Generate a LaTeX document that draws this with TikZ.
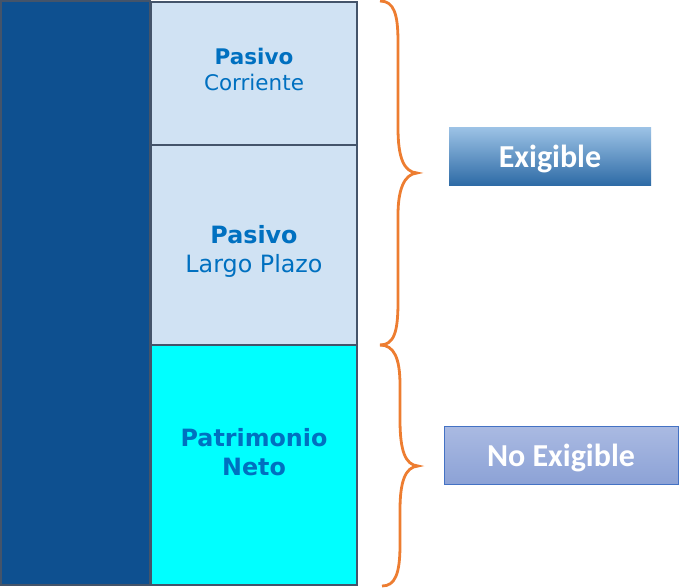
\documentclass[tikz,border=0pt]{standalone}
\usepackage{fontspec}
\setmainfont{DejaVu Sans}
\newfontfamily\calibri{Carlito}
\usetikzlibrary{positioning}
\definecolor{activo}{RGB}{14,80,144}
\definecolor{borde}{RGB}{68,84,106}
\definecolor{pasivo}{RGB}{208,226,243}
\definecolor{patrim}{RGB}{0,255,255}
\definecolor{azul}{RGB}{0,112,192}
\definecolor{naranja}{RGB}{237,125,49}
\definecolor{exigA}{RGB}{157,195,230}
\definecolor{exigB}{RGB}{46,107,166}
\definecolor{noexA}{RGB}{170,186,226}
\definecolor{noexB}{RGB}{140,162,214}
\definecolor{noexC}{RGB}{68,114,196}

\begin{document}
\begin{tikzpicture}[x=1pt,y=-1pt,
    box/.style={draw=borde,line width=1.5pt,outer sep=0pt,inner sep=0pt,
      minimum width=206pt,text=azul,align=center},
    tag/.style={minimum height=58pt,text=white,inner sep=0pt,
      text height=22pt,text depth=0pt,
      font=\calibri\bfseries\fontsize{32}{38}\selectfont},
    brace/.style={draw=naranja,line width=2.8pt}]
    \useasboundingbox (0,0) rectangle (679,587);
    \node[box,fill=activo,minimum width=149pt,minimum height=584pt,
      anchor=north west] (act) at (1,1) {};
    \node[box,fill=pasivo,minimum height=143pt,anchor=north west,
      font=\fontsize{21.5}{26}\selectfont] (pc) at (151,2)
      {\textbf{Pasivo}\\Corriente\\[-18pt]};
    \node[box,fill=pasivo,minimum height=200pt,
      font=\fontsize{23.8}{29}\selectfont] (plp) [below=0pt of pc]
      {\textbf{Pasivo}\\Largo Plazo\\[-37pt]};
    \node[box,fill=patrim,minimum height=240pt,
      font=\bfseries\fontsize{23.8}{29}\selectfont] (pn) [below=0pt of plp]
      {Patrimonio\\Neto\\[-3pt]};
    \node[tag,minimum width=202pt,top color=exigA,bottom color=exigB]
      (exig) at (550,156) {Exigible};
    \node[tag,minimum width=234pt,draw=noexC,line width=1pt,
      top color=noexA,bottom color=noexB] (noexig) at (561,455) {No Exigible};
    % llaves
    \draw[brace] (380,1) .. controls (394,1) and (398,14) .. (398,42)
      -- (398,128) .. controls (398,158) and (404,172) .. (417,173)
      .. controls (404,174) and (398,190) .. (398,215)
      -- (398,302) .. controls (398,332) and (394,345) .. (380,345);
    \draw[brace] (380,345) .. controls (394,345) and (400,358) .. (400,385)
      -- (400,420) .. controls (400,450) and (405,465) .. (418,466)
      .. controls (405,467) and (400,482) .. (400,510)
      -- (400,545) .. controls (400,574) and (395,586) .. (382,586);
  \end{tikzpicture}
\end{document}
